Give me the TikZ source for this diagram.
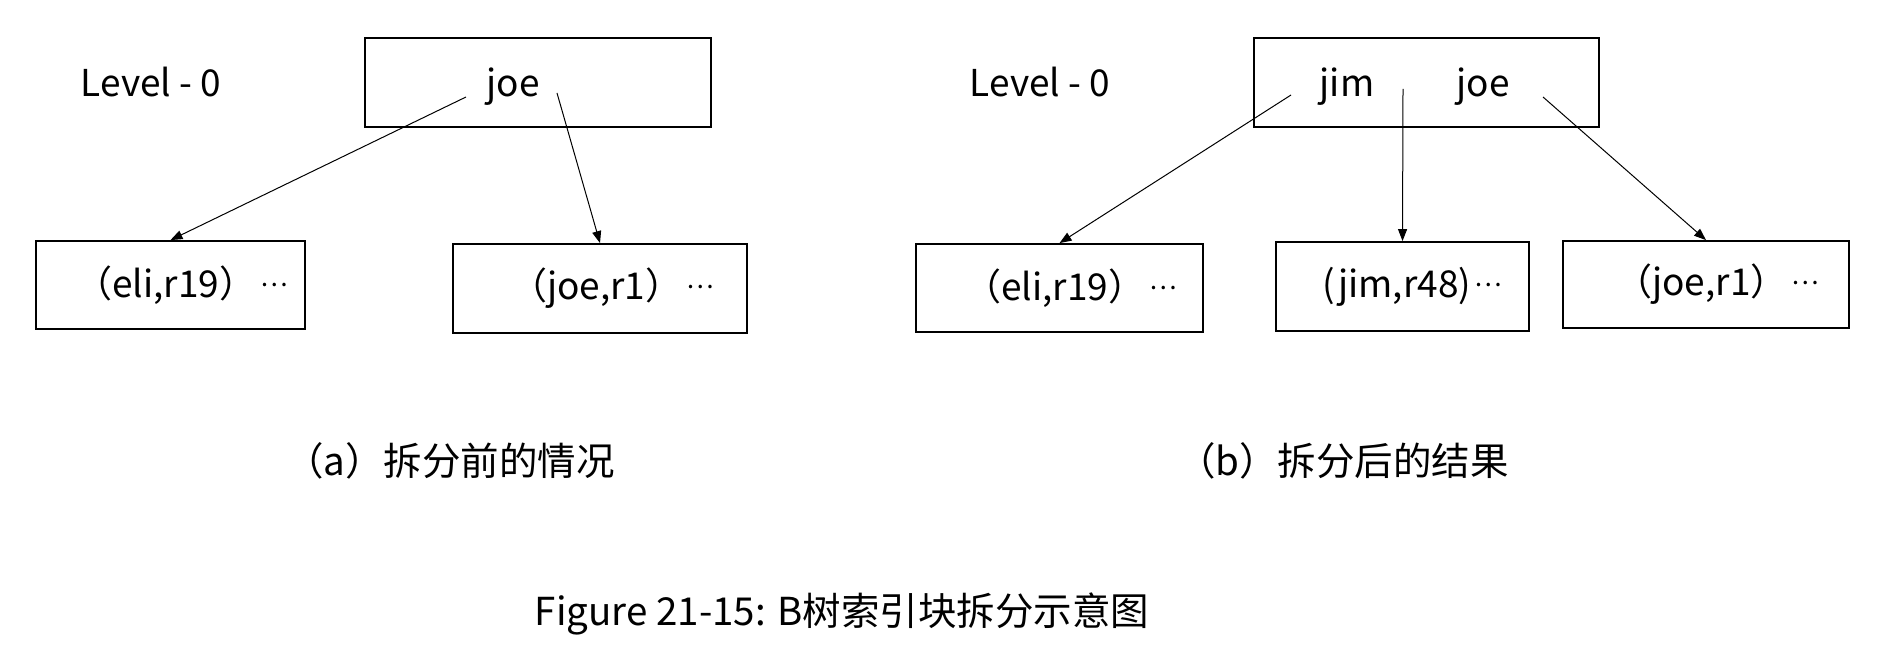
\documentclass[tikz,border=0pt]{standalone}
\usepackage{fontspec}
\setmainfont{Noto Sans CJK SC}
\usetikzlibrary{arrows.meta}
\newcommand{\mydots}{\hspace{0.1em}\raisebox{0.3em}{\fontsize{26}{26}\selectfont …}}
\begin{document}
\begin{tikzpicture}[x=1pt,y=-1pt,
  every node/.style={font=\fontsize{37}{40}\selectfont, inner sep=0pt},
  captext/.style={font=\fontsize{38.5}{42}\selectfont},
  toptext/.style={anchor=base},
  boxnode/.style={draw, line width=1.8pt},
  link/.style={line width=1pt, -{Triangle[length=12pt,width=9pt]}}]
\useasboundingbox (0,0) rectangle (1878,660);
% ---- (a) ----
\node[toptext] (lva) at (151,97) {Level - 0};
\node[boxnode, minimum width=346pt, minimum height=89pt] (ta) at (538,82.5) {};
\node[toptext] (joea) at (513,97) {joe};
\node[boxnode, minimum width=269pt, minimum height=88pt] (a1) at (170.5,285) {\hspace*{22pt}（eli,r19）\mydots};
\node[boxnode, minimum width=294pt, minimum height=89pt] (a2) at (600,288.5) {\hspace*{24pt}（joe,r1）\mydots};
\coordinate (sa1) at (466,97);
\coordinate (sa2) at (557,93);
\draw[link] (sa1) -- (a1.north);
\draw[link] (sa2) -- (a2.north);
% ---- (b) ----
\node[toptext] (lvb) at (1040,97) {Level - 0};
\node[boxnode, minimum width=345pt, minimum height=89pt] (tb) at (1426.5,82.5) {};
\node[toptext] (jimb) at (1347,97) {jim};
\node[toptext] (joeb) at (1483,97) {joe};
\node[boxnode, minimum width=287pt, minimum height=88pt] (b1) at (1059.5,288) {\hspace*{22pt}（eli,r19）\mydots};
\node[boxnode, minimum width=253pt, minimum height=89pt] (b2) at (1402.5,286.5) {\hspace*{20pt}(jim,r48)\mydots};
\node[boxnode, minimum width=286pt, minimum height=87pt] (b3) at (1706,284.5) {\hspace*{22pt}（joe,r1）\mydots};
\coordinate (sb1) at (1291,95);
\coordinate (sb2) at (1403,89);
\coordinate (sb3) at (1543,97);
\draw[link] (sb1) -- (b1.north);
\draw[link] (sb2) -- (b2.north);
\draw[link] (sb3) -- (b3.north);
% ---- captions ----
\node[captext] (capa) at (450,461) {（a）拆分前的情况};
\node[captext] (capb) at (1343,461) {（b）拆分后的结果};
\node[captext] (fig) at (842,614) {Figure 21-15: B树索引块拆分示意图};
\end{tikzpicture}
\end{document}
